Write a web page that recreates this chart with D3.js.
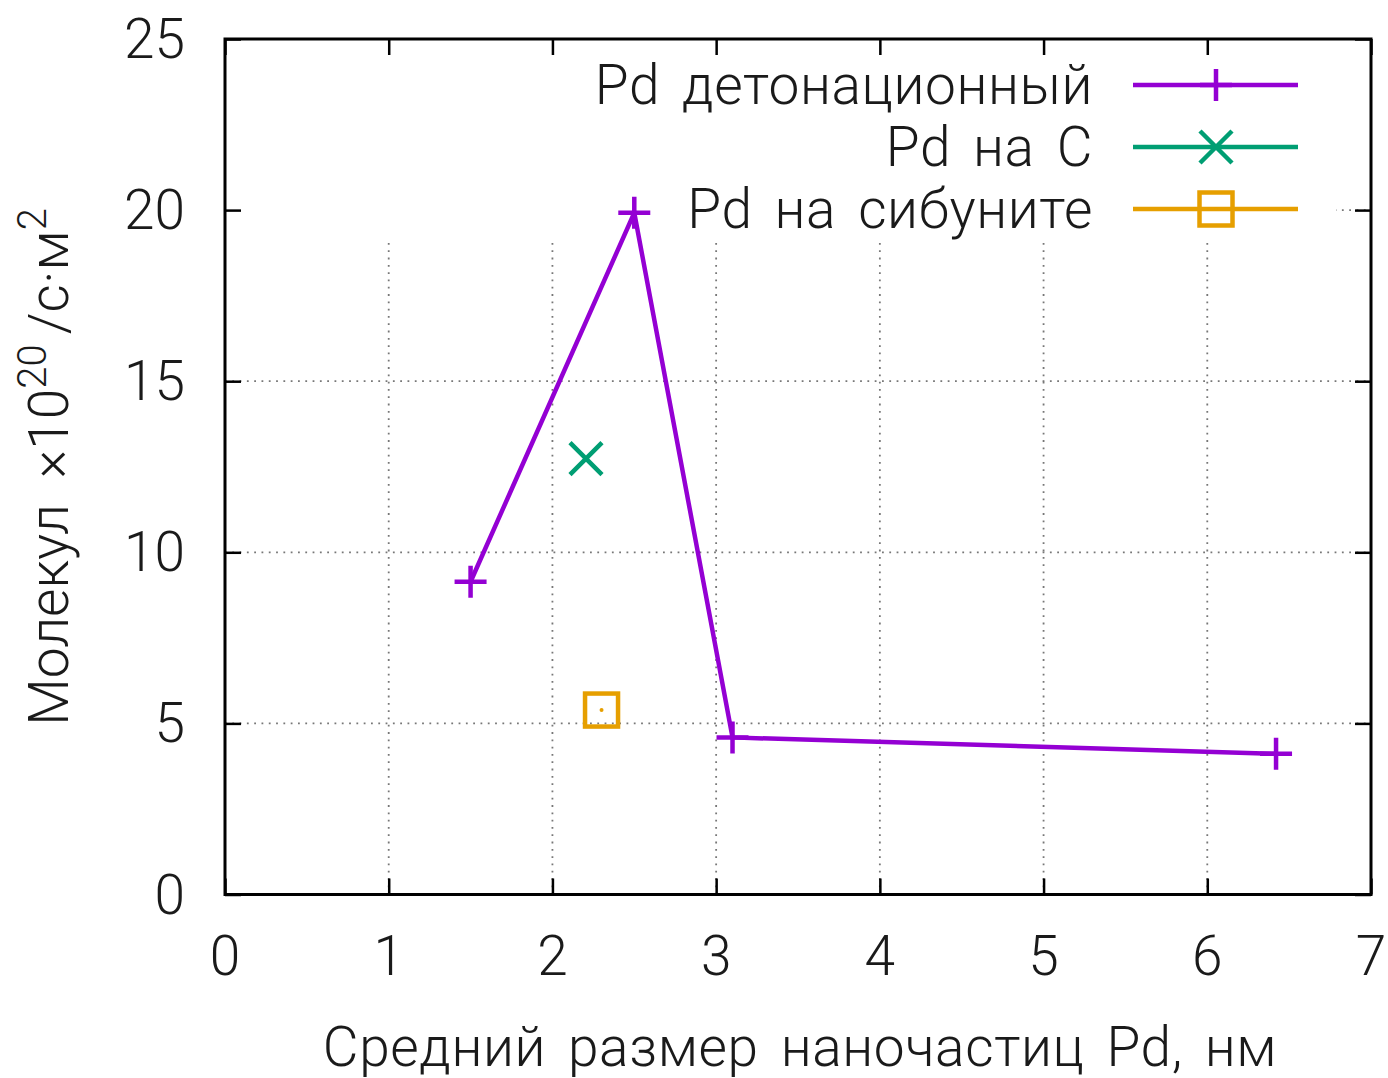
<!DOCTYPE html>
<html><head><meta charset="utf-8">
<script src="https://cdn.jsdelivr.net/npm/d3@7"></script>
<style>
html,body{margin:0;padding:0;background:#fff;}
text{font-family:Roboto,"Noto Sans",sans-serif;font-weight:300;fill:#1a1a1a;}
</style></head>
<body><svg id="chart" width="1388" height="1078"></svg>
<script>
// ---- data ----
const detX = [1.5, 2.5, 3.1, 6.42];
const detY = [9.14, 19.92, 4.59, 4.11];
const onCX = [2.205];
const onCY = [12.74];
const sibX = [2.30];
const sibY = [5.39];
const xTicks = [0,1,2,3,4,5,6,7];
const yTicks = [0,5,10,15,20,25];
const seriesNames = ["Pd детонационный", "Pd на C", "Pd на сибуните"];
const seriesColors = ["#9400D3", "#009E73", "#E69F00"];
const xTitle = "Средний размер наночастиц Pd, нм";

const svg = d3.select("#chart");
const L=225, R=1371, T=39, B=894.5;
const x = d3.scaleLinear().domain([0,7]).range([L,R]);
const y = d3.scaleLinear().domain([0,25]).range([B,T]);
const FS = 55;

// grid
const grid = svg.append("g");
xTicks.slice(1,-1).forEach(t=>{
  grid.append("line").attr("x1",x(t)).attr("x2",x(t)).attr("y1",B).attr("y2",T)
    .attr("stroke","#777").attr("stroke-width",1.8).attr("stroke-dasharray","1.8,5.5");
});
yTicks.slice(1,-1).forEach(t=>{
  grid.append("line").attr("x1",L).attr("x2",R).attr("y1",y(t)).attr("y2",y(t))
    .attr("stroke","#777").attr("stroke-width",1.8).attr("stroke-dasharray","1.8,5.5");
});
// opaque legend box
svg.append("rect").attr("x",L+1).attr("y",T+1).attr("width",1335-L).attr("height",240-T).attr("fill","#fff");

// axes with inner ticks on all sides
const tl = 16;
const axB = d3.axisBottom(x).tickValues(xTicks).tickSize(-tl).tickFormat("");
const axT = d3.axisTop(x).tickValues(xTicks).tickSize(-tl).tickFormat("");
const axL = d3.axisLeft(y).tickValues(yTicks).tickSize(-tl).tickFormat("");
const axR = d3.axisRight(y).tickValues(yTicks).tickSize(-tl).tickFormat("");
[[axB,`translate(0,${B})`],[axT,`translate(0,${T})`],[axL,`translate(${L},0)`],[axR,`translate(${R},0)`]].forEach(([a,tr])=>{
  const g = svg.append("g").attr("transform",tr).call(a);
  g.select(".domain").remove();
  g.selectAll("line").attr("stroke","#000").attr("stroke-width",2.5);
});
svg.append("rect").attr("x",L).attr("y",T).attr("width",R-L).attr("height",B-T)
  .attr("fill","none").attr("stroke","#000").attr("stroke-width",3);

// tick labels
xTicks.forEach(t=>{
  svg.append("text").attr("x",x(t)).attr("y",956).attr("text-anchor","middle")
    .attr("dominant-baseline","central").attr("font-size",FS).text(t);
});
yTicks.forEach(t=>{
  svg.append("text").attr("x",185).attr("y",y(t)).attr("text-anchor","end")
    .attr("dominant-baseline","central").attr("font-size",FS).text(t);
});

// axis titles
svg.append("text").attr("x",800).attr("y",1066).attr("text-anchor","middle")
  .attr("font-size",FS).attr("word-spacing",8).attr("letter-spacing",0.6).text(xTitle);
const yl = svg.append("text").attr("transform","translate(68,467) rotate(-90)")
  .attr("text-anchor","middle").attr("font-size",FS).attr("word-spacing",12);
yl.append("tspan").text("Молекул ×10");
yl.append("tspan").attr("dy",-22).attr("font-size",40).text("20");
yl.append("tspan").attr("dy",22).attr("dx",10).text("/с·м");
yl.append("tspan").attr("dy",-22).attr("font-size",40).text("2");

// markers
function plus(g,cx,cy,c){
  g.append("path").attr("d",`M${cx-16},${cy}H${cx+16}M${cx},${cy-16}V${cy+16}`)
   .attr("stroke",c).attr("stroke-width",4.5).attr("fill","none");
}
function cross(g,cx,cy,c){
  g.append("path").attr("d",`M${cx-16},${cy-16}L${cx+16},${cy+16}M${cx-16},${cy+16}L${cx+16},${cy-16}`)
   .attr("stroke",c).attr("stroke-width",4.5).attr("fill","none");
}
function square(g,cx,cy,c){
  g.append("rect").attr("x",cx-16.5).attr("y",cy-16.5).attr("width",33).attr("height",33)
   .attr("stroke",c).attr("stroke-width",4.5).attr("fill","none");
  g.append("circle").attr("cx",cx).attr("cy",cy).attr("r",2).attr("fill",c);
}

// series 1 line
const pts = detX.map((v,i)=>[x(v),y(detY[i])]);
svg.append("path").attr("d",d3.line()(pts)).attr("fill","none")
  .attr("stroke",seriesColors[0]).attr("stroke-width",4.5).attr("stroke-linejoin","miter");
pts.forEach(p=>plus(svg,p[0],p[1],seriesColors[0]));
onCX.forEach((v,i)=>cross(svg,x(v),y(onCY[i]),seriesColors[1]));
sibX.forEach((v,i)=>square(svg,x(v),y(sibY[i]),seriesColors[2]));

// legend
const rows = [85,147,209];
const mk = [plus,cross,square];
seriesNames.forEach((n,i)=>{
  svg.append("text").attr("x",1093).attr("y",rows[i]).attr("text-anchor","end")
    .attr("dominant-baseline","central").attr("font-size",FS).attr("word-spacing",8)
    .attr("letter-spacing",0.6).text(n);
  svg.append("line").attr("x1",1133).attr("x2",1298).attr("y1",rows[i]).attr("y2",rows[i])
    .attr("stroke",seriesColors[i]).attr("stroke-width",4.5);
  mk[i](svg,1216,rows[i],seriesColors[i]);
});
</script></body></html>
